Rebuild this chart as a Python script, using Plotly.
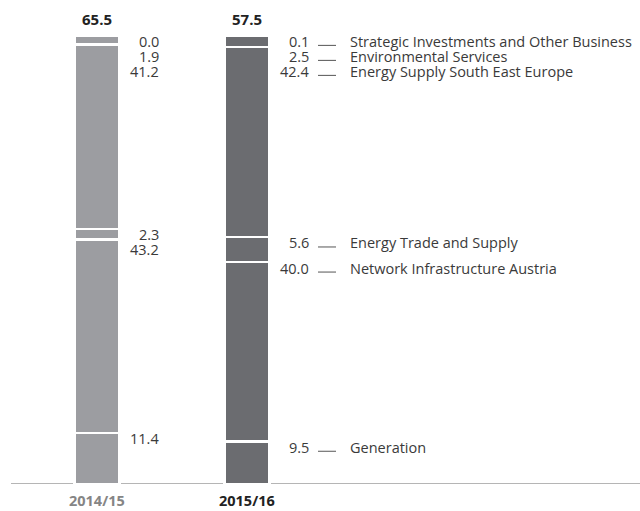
import plotly.graph_objects as go

# ---- data ----
years = ["2014/15", "2015/16"]
totals = [65.5, 57.5]
segments = [
    "Generation",
    "Network Infrastructure Austria",
    "Energy Trade and Supply",
    "Energy Supply South East Europe",
    "Environmental Services",
    "Strategic Investments and Other Business",
]
share_2014 = [11.4, 43.2, 2.3, 41.2, 1.9, 0.0]
share_2015 = [9.5, 40.0, 5.6, 42.4, 2.5, 0.1]

# ---- style ----
bar_colors = ["#9c9da1", "#6b6c70"]
year_colors = ["#858585", "#222222"]
text_color = "#3a3a3a"
FONT = "Open Sans, Noto Sans, sans-serif"
FS = 14.5

shares = [share_2014, share_2015]

fig = go.Figure()
for i, seg in enumerate(segments):
    fig.add_trace(go.Bar(
        x=years,
        y=[share_2014[i], share_2015[i]],
        name=seg,
        width=0.3,
        marker=dict(color=bar_colors, line=dict(color="white", width=2.5)),
        hoverinfo="skip",
        showlegend=False,
    ))

annotations = []
shapes = []

# label placement: top-down, avoid overlaps
OFFSET = 1.3
SPACING = 3.35
for yi, year in enumerate(years):
    vals = shares[yi]
    tops = []
    c = 0
    for v in vals:
        c += v
        tops.append(c)
    prev = None
    for i in reversed(range(len(vals))):
        ly = tops[i] - OFFSET
        if prev is not None:
            ly = min(ly, prev - SPACING)
        prev = ly
        annotations.append(dict(
            x=year, y=ly, xref="x", yref="y", text=f"{vals[i]:.1f}",
            showarrow=False, xanchor="right", yanchor="middle", xshift=63,
            borderpad=0, font=dict(family=FONT, size=FS, color=text_color),
        ))
        if yi == len(years) - 1:
            annotations.append(dict(
                x=year, y=ly, xref="x", yref="y", text=segments[i],
                showarrow=False, xanchor="left", yanchor="middle", xshift=102,
                borderpad=0, font=dict(family=FONT, size=FS, color=text_color),
            ))
            shapes.append(dict(
                type="line", xref="x", yref="y",
                xsizemode="pixel", xanchor=yi, x0=71, x1=89,
                ysizemode="pixel", yanchor=ly, y0=-4, y1=-4,
                line=dict(color="#555555", width=1),
            ))
    # total above bar
    annotations.append(dict(
        x=year, y=100, xref="x", yref="y", text=f"<b>{totals[yi]:.1f}</b>",
        showarrow=False, xanchor="center", yanchor="middle", yshift=17,
        font=dict(family=FONT, size=15, color="#222222"),
    ))
    # category label
    annotations.append(dict(
        x=year, y=0, xref="x", yref="y", text=f"<b>{year}</b>",
        showarrow=False, xanchor="center", yanchor="middle", yshift=-16,
        borderpad=0, font=dict(family=FONT, size=14.5, color=year_colors[yi]),
    ))

# baseline
shapes.append(dict(
    type="line", xref="paper", yref="y", x0=11 / 640, x1=1, y0=0, y1=0,
    line=dict(color="#b5b5b5", width=2), layer="below",
))

fig.update_layout(
    width=640, height=511, autosize=False,
    barmode="stack",
    margin=dict(l=0, r=0, t=36, b=27, pad=0),
    paper_bgcolor="white", plot_bgcolor="white",
    xaxis=dict(type="category", range=[-97 / 150, -97 / 150 + 640 / 150],
               visible=False, fixedrange=True),
    yaxis=dict(range=[0, 100], visible=False, fixedrange=True),
    annotations=annotations,
    shapes=shapes,
    showlegend=False,
)

fig.write_html(
    "out.html",
    config={"displayModeBar": False},
    post_script="document.body.style.margin='0';document.body.style.overflow='hidden';",
)
